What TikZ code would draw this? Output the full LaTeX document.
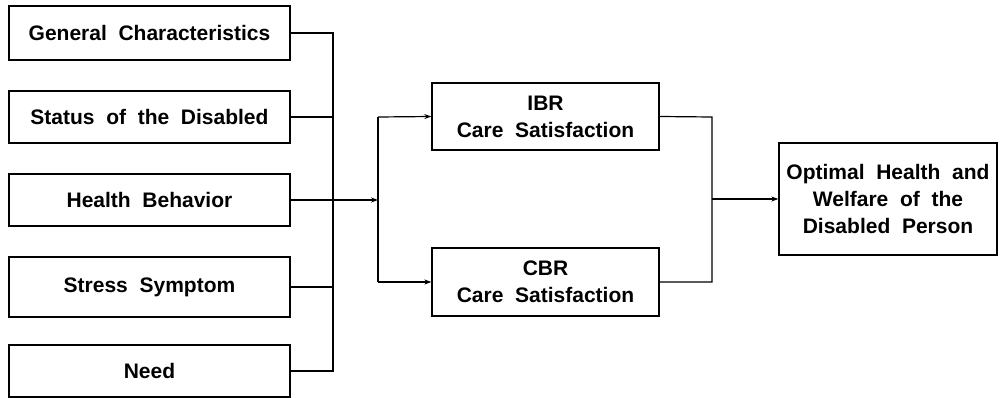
\documentclass[tikz,border=0pt]{standalone}
\usepackage{fontspec}
\setmainfont{Liberation Sans}
\usetikzlibrary{arrows.meta}
\begin{document}
\begin{tikzpicture}[x=1pt,y=-1pt,
  box/.style={draw, line width=1.3pt, inner sep=0pt, font=\fontsize{21}{27}\selectfont\bfseries, align=center},
  conn/.style={line width=1.2pt},
  arr/.style={line width=1.2pt, -{Stealth[length=7pt,width=5pt]}}]
\useasboundingbox (0,0) rectangle (1000,398);
\node[box, minimum width=281pt, minimum height=54pt] (g) at (149.5,33) {General\ \ Characteristics};
\node[box, minimum width=281pt, minimum height=52pt] (s) at (149.5,117) {Status\ \ of\ \ the\ \ Disabled};
\node[box, minimum width=281pt, minimum height=52pt] (h) at (149.5,200) {Health\ \ Behavior};
\node[box, minimum width=281pt, minimum height=60pt] (t) at (149.5,287) {Stress\ \ Symptom};
\node[box, minimum width=281pt, minimum height=52pt] (n) at (149.5,371) {Need};
\node[box, minimum width=227pt, minimum height=67pt] (i) at (545.5,116.5) {IBR\\Care\ \ Satisfaction};
\node[box, minimum width=227pt, minimum height=68pt] (c) at (545.5,282) {CBR\\Care\ \ Satisfaction};
\node[box, minimum width=218pt, minimum height=112pt] (o) at (888,199) {Optimal\ \ Health\ \ and\\Welfare\ \ of\ \ the\\Disabled\ \ Person};
\coordinate (bus1) at (333,33);
\coordinate (bus5) at (333,371);
\coordinate (j) at (378,200);
\coordinate (jt) at (378,117);
\coordinate (jb) at (378,282);
\coordinate (rt) at (712,117);
\coordinate (rb) at (712,282);
\coordinate (rm) at (712,199);
\draw[conn] (g.east) -- (bus1) -- (bus5) -- (n.east);
\draw[conn] (s.east) -- (s.east -| bus1);
\draw[conn] (t.east) -- (t.east -| bus1);
\draw[arr] (h.east) -- (j);
\draw[conn] (jt) -- (jb);
\draw[arr] (jt) -- (i.west);
\draw[arr] (jb) -- (c.west);
\draw[conn] (i.east) -- (rt) -- (rb) -- (c.east);
\draw[arr] (rm) -- (o.west);
\end{tikzpicture}
\end{document}
